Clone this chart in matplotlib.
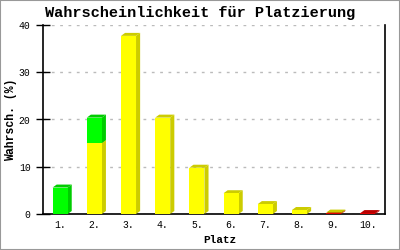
import matplotlib
matplotlib.use("Agg")
import matplotlib.pyplot as plt
from matplotlib.patches import Polygon, Rectangle

# values (percent)
places = ["1.", "2.", "3.", "4.", "5.", "6.", "7.", "8.", "9.", "10."]
red = [0, 0, 0, 0, 0, 0, 0, 0, 0.15, 0.2]
yellow = [0, 15.0, 37.7, 20.4, 9.8, 4.4, 2.1, 0.85, 0.15, 0]
green = [5.6, 5.4, 0, 0, 0, 0, 0, 0, 0, 0]

colors = {"red": ("#dd0000", "#bb0000"),
          "yellow": ("#ffff00", "#cccc00"),
          "green": ("#00ff00", "#00cc00")}

mono = "Liberation Mono"
fig = plt.figure(figsize=(4, 2.5), dpi=100)
ax = fig.add_axes([0.1075, 0.144, 0.855, 0.756])

w = 0.44
dx = 0.12   # depth to the right (category units)
dy = 0.63   # depth upwards (percent units)

for i in range(len(places)):
    x = i + 1
    bottom = 0
    for name, vals in (("red", red), ("yellow", yellow), ("green", green)):
        h = vals[i]
        if h <= 0:
            continue
        front, shade = colors[name]
        x0, x1 = x - w / 2, x + w / 2
        top = bottom + h
        ax.add_patch(Polygon([(x1, bottom), (x1 + dx, bottom + dy), (x1 + dx, top + dy), (x1, top)],
                             closed=True, facecolor=shade, edgecolor="none", zorder=3))
        ax.add_patch(Polygon([(x0, top), (x0 + dx, top + dy), (x1 + dx, top + dy), (x1, top)],
                             closed=True, facecolor=shade, edgecolor="none", zorder=3))
        ax.bar(x, h, bottom=bottom, width=w, color=front, zorder=4)
        bottom = top

ax.set_xlim(0.5, 10.5)
ax.set_ylim(0, 40)
ax.set_yticks([0, 10, 20, 30, 40])
ax.set_xticks(range(1, 11))
ax.set_xticklabels(places)
ax.grid(axis="y", color="#bbbbbb", linestyle=(0, (2, 4)), linewidth=1)
ax.set_axisbelow(True)
ax.spines["top"].set_visible(False)
for s in ("left", "bottom", "right"):
    ax.spines[s].set_linewidth(1.2)
ax.tick_params(axis="y", direction="inout", length=10, width=1, pad=4, labelsize=7)
ax.tick_params(axis="x", length=0, pad=4, labelsize=7)
for lab in ax.get_xticklabels() + ax.get_yticklabels():
    lab.set_family(mono)

# axis titles placed like in the reference
fig.text(220 / 400, 1 - 240 / 250, "Platz", family=mono, fontweight="bold",
         fontsize=8, ha="center", va="center")
fig.text(11 / 400, 1 - 120 / 250, "Wahrsch. (%)", family=mono, fontweight="bold",
         fontsize=8.3, ha="center", va="center", rotation=90)
fig.text(0.5, 0.95, "Wahrscheinlichkeit für Platzierung", family=mono,
         fontweight="bold", fontsize=11, ha="center", va="center")

fig.patches.append(Rectangle((0, 0), 1, 1, transform=fig.transFigure, fill=False,
                             edgecolor="#999999", linewidth=1.5))

plt.savefig("out.png", dpi=100)
